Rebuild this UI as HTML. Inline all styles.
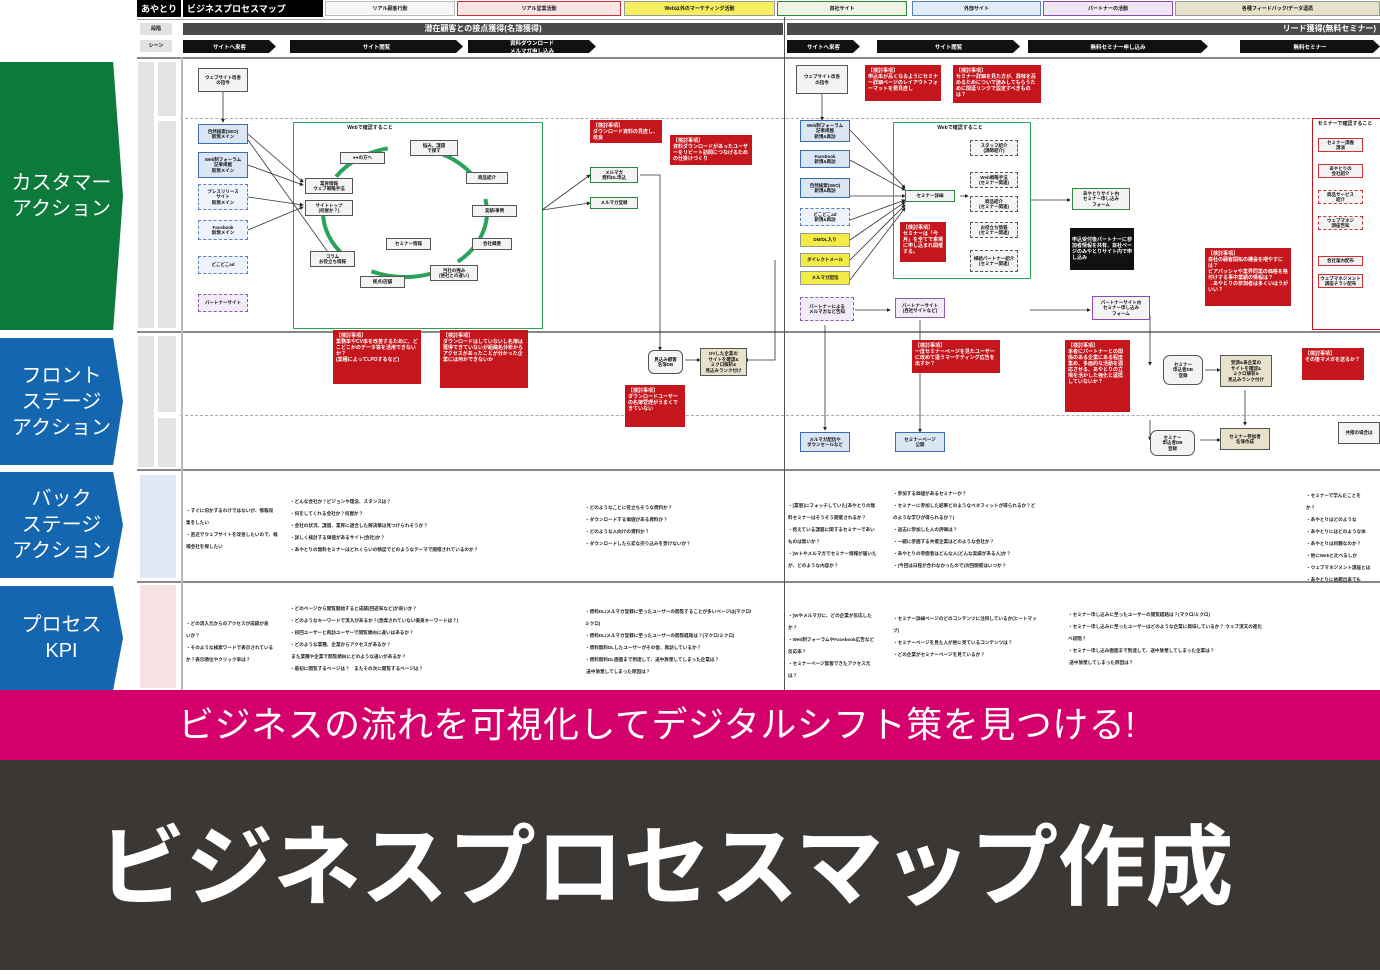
<!DOCTYPE html>
<html><head><meta charset="utf-8"><style>
*{margin:0;padding:0;box-sizing:border-box}
body{width:1380px;height:970px;position:relative;overflow:hidden;background:#fff;font-family:"Liberation Sans","Noto Sans CJK JP",sans-serif}
.a{position:absolute}
.t{font-size:5px;line-height:6px;color:#111;text-align:center;display:flex;align-items:center;justify-content:center;font-weight:bold}
.lab{position:absolute;left:0;width:123px;color:#fff;font-size:20px;line-height:26px;display:flex;align-items:center;justify-content:center;text-align:center;clip-path:polygon(0 0,92% 0,100% 50%,92% 100%,0 100%)}
.red{position:absolute;background:#c4161c;color:#fff;font-size:5px;line-height:6px;padding:3px;font-weight:bold}
.bx{position:absolute;border:1px solid #3a6db5;background:#dbe6f5;font-size:4.5px;line-height:5.5px;text-align:center;display:flex;align-items:center;justify-content:center;color:#111;font-weight:bold}
.dsh{border:1px dashed #5a7ec0;background:#eef2fa}
.pur{border:1px dashed #8a5ab5;background:#f2ecf8}
.yel{border:1px solid #999;background:#f3ec47}
.gb{position:absolute;border:1px solid #555;background:#f4f4f4;font-size:4.5px;line-height:5.5px;text-align:center;display:flex;align-items:center;justify-content:center;color:#111;font-weight:bold}
.arr{position:absolute;background:#111;color:#fff;font-size:5.5px;font-weight:bold;display:flex;align-items:center;justify-content:center;height:13px;clip-path:polygon(0 0,calc(100% - 7px) 0,100% 50%,calc(100% - 7px) 100%,0 100%)}
.ln{position:absolute;background:#888}
.q{position:absolute;font-size:4.6px;line-height:12px;color:#222;white-space:nowrap;font-weight:bold}
</style></head><body>

<div class="lab" style="top:62px;height:268px;background:#0c7a3b">カスタマー<br>アクション</div>
<div class="lab" style="top:338px;height:127px;background:#1566b0">フロント<br>ステージ<br>アクション</div>
<div class="lab" style="top:472px;height:106px;background:#1566b0">バック<br>ステージ<br>アクション</div>
<div class="lab" style="top:586px;height:104px;background:#1566b0">プロセス<br>KPI</div>

<div class="a t" style="left:137px;top:0;width:44px;height:17px;background:#000;color:#fff;font-size:9px;font-weight:bold">あやとり</div>
<div class="a t" style="left:183px;top:0;width:140px;height:17px;background:#000;color:#fff;font-size:9px;font-weight:bold;justify-content:flex-start;padding-left:4px">ビジネスプロセスマップ</div>
<div class="a t" style="left:325px;top:1px;width:130px;height:15px;background:#f6f6f6;border:1px solid #bbb">リアル顧客行動</div>
<div class="a t" style="left:457px;top:1px;width:164px;height:15px;background:#fbe4e4;border:1px solid #c33">リアル営業活動</div>
<div class="a t" style="left:624px;top:1px;width:151px;height:15px;background:#f5ef60;border:1px solid #999">Web以外のマーケティング活動</div>
<div class="a t" style="left:777px;top:1px;width:130px;height:15px;background:#eef3e4;border:1px solid #2a8a3a">自社サイト</div>
<div class="a t" style="left:912px;top:1px;width:129px;height:15px;background:#e2ecf7;border:1px solid #5a82b8">外部サイト</div>
<div class="a t" style="left:1043px;top:1px;width:130px;height:15px;background:#efe8f4;border:1px solid #8a4ab0">パートナーの活動</div>
<div class="a t" style="left:1175px;top:1px;width:205px;height:15px;background:#e8e2cc;border:1px solid #999">各種フィードバック/データ連携</div>

<div class="ln" style="left:137px;top:19px;width:1243px;height:1px;background:#aaa"></div>
<div class="a t" style="left:140px;top:23px;width:32px;height:12px;background:#e2e2e2">段階</div>
<div class="a t" style="left:140px;top:40px;width:32px;height:12px;background:#e2e2e2">シーン</div>
<div class="a t" style="left:183px;top:23px;width:600px;height:12px;background:#4a4a4a;color:#fff;font-size:8px;font-weight:bold">潜在顧客との接点獲得(名簿獲得)</div>
<div class="a t" style="left:787px;top:23px;width:593px;height:12px;background:#4a4a4a;color:#fff;font-size:8px;font-weight:bold;justify-content:flex-end;padding-right:4px">リード獲得(無料セミナー)</div>
<div class="arr" style="left:183px;top:40px;width:93px">サイトへ来客</div>
<div class="arr" style="left:290px;top:40px;width:173px">サイト閲覧</div>
<div class="arr" style="left:468px;top:40px;width:128px">資料ダウンロード<br>メルマガ申し込み</div>
<div class="arr" style="left:787px;top:40px;width:73px">サイトへ来客</div>
<div class="arr" style="left:877px;top:40px;width:143px">サイト閲覧</div>
<div class="arr" style="left:1028px;top:40px;width:180px">無料セミナー申し込み</div>
<div class="arr" style="left:1240px;top:40px;width:140px">無料セミナー</div>

<div class="ln" style="left:137px;top:57px;width:1243px;height:2px"></div>
<div class="ln" style="left:137px;top:331px;width:1243px;height:2px"></div>
<div class="ln" style="left:137px;top:469px;width:1243px;height:2px"></div>
<div class="ln" style="left:137px;top:581px;width:1243px;height:2px"></div>
<div class="ln" style="left:180px;top:118px;width:1200px;height:0;border-top:1px dashed #aaa;background:none"></div>
<div class="ln" style="left:180px;top:415px;width:1200px;height:0;border-top:1px dashed #aaa;background:none"></div>
<div class="ln" style="left:181px;top:57px;width:2px;height:633px;background:#bbb"></div>
<div class="ln" style="left:784px;top:17px;width:1px;height:673px;background:#555"></div>
<div class="a" style="left:138px;top:62px;width:16px;height:266px;background:#e4e4e4"></div>
<div class="a" style="left:158px;top:62px;width:18px;height:54px;background:#e4e4e4"></div>
<div class="a" style="left:158px;top:121px;width:18px;height:207px;background:#e4e4e4"></div>
<div class="a" style="left:138px;top:336px;width:16px;height:131px;background:#e4e4e4"></div>
<div class="a" style="left:158px;top:336px;width:18px;height:76px;background:#e4e4e4"></div>
<div class="a" style="left:158px;top:418px;width:18px;height:49px;background:#e4e4e4"></div>
<div class="a" style="left:140px;top:475px;width:36px;height:103px;background:#dfe8f4"></div>
<div class="a" style="left:140px;top:585px;width:36px;height:103px;background:#f7e3e3"></div>

<div class="gb" style="left:198px;top:68px;width:50px;height:24px;border-width:1.5px">ウェブサイト改善<br>の指令</div>
<div class="bx" style="left:198px;top:124px;width:50px;height:20px">自然検索(SEO)<br>新規メイン</div>
<div class="bx" style="left:198px;top:152px;width:50px;height:26px">Web制フォーラム<br>記事掲載<br>新規メイン</div>
<div class="bx dsh" style="left:198px;top:184px;width:50px;height:26px">プレスリリース<br>サイト<br>新規メイン</div>
<div class="bx dsh" style="left:198px;top:220px;width:50px;height:20px">Facebook<br>新規メイン</div>
<div class="bx dsh" style="left:198px;top:256px;width:50px;height:18px">どこどこad</div>
<div class="bx pur" style="left:198px;top:294px;width:50px;height:18px">パートナーサイト</div>

<div class="a" style="left:293px;top:122px;width:250px;height:207px;border:1.5px solid #2aa35a"></div>
<svg class="a" style="left:0;top:0" width="1380" height="690">
<defs><marker id="m" markerWidth="5" markerHeight="5" refX="4" refY="2.5" orient="auto"><path d="M0,0L5,2.5L0,5z" fill="#222"/></marker>
<marker id="g" markerWidth="6" markerHeight="6" refX="4" refY="3" orient="auto"><path d="M0,0L6,3L0,6z" fill="#2aa35a"/></marker></defs>
<ellipse cx="405" cy="212" rx="82" ry="65" fill="none" stroke="#2aa35a" stroke-width="4" stroke-dasharray="60 30" marker-end="url(#g)"/>
<g stroke="#333" stroke-width="0.8" fill="none" marker-end="url(#m)">
<path d="M248 134L303 182"/><path d="M248 165L303 185"/><path d="M248 197L303 205"/><path d="M248 230L303 207"/><path d="M248 140L330 255"/>
<path d="M542 210L590 175"/><path d="M542 210L590 203"/><path d="M640 175L660 175L660 350"/><path d="M685 360L700 360"/>
<path d="M223 92L223 122"/><path d="M822 94L822 120"/>
<path d="M850 196L905 196"/><path d="M960 196L968 196"/><path d="M1030 200L1070 200"/>
<path d="M1030 310L1090 310"/><path d="M1150 315L1150 365"/><path d="M1150 420L1150 440"/><path d="M1200 440L1220 440"/><path d="M1205 370L1220 370"/><path d="M1245 390L1245 425"/>
<path d="M855 310L890 310"/><path d="M920 320L920 432"/><path d="M775 260L775 360L745 360"/><path d="M825 325L825 430"/>
<path d="M850 160L905 190"/><path d="M850 130L905 188"/><path d="M850 220L905 200"/><path d="M850 240L905 202"/><path d="M850 260L905 205"/><path d="M850 280L905 208"/>
</g></svg>
<div class="a t" style="left:345px;top:124px;width:50px;height:8px">Webで確認すること</div>
<div class="gb" style="left:340px;top:152px;width:45px;height:12px">●●の方へ</div>
<div class="gb" style="left:410px;top:140px;width:48px;height:16px">悩み、課題<br>で探す</div>
<div class="gb" style="left:466px;top:172px;width:42px;height:12px">商品紹介</div>
<div class="gb" style="left:472px;top:205px;width:45px;height:12px">実績/事例</div>
<div class="gb" style="left:472px;top:238px;width:40px;height:12px">会社概要</div>
<div class="gb" style="left:430px;top:265px;width:48px;height:16px">当社の強み<br>(他社との違い)</div>
<div class="gb" style="left:360px;top:276px;width:45px;height:12px">拠点/店舗</div>
<div class="gb" style="left:310px;top:251px;width:45px;height:16px">コラム<br>お役立ち情報</div>
<div class="gb" style="left:386px;top:238px;width:45px;height:12px">セミナー情報</div>
<div class="gb" style="left:305px;top:178px;width:48px;height:16px">業界情報<br>ウェブ戦略手法</div>
<div class="gb" style="left:305px;top:200px;width:48px;height:16px">サイトトップ<br>(何屋か？)</div>
<div class="gb" style="left:590px;top:167px;width:48px;height:16px;border-color:#2a8a3a">メルマガ<br>資料DL申込</div>
<div class="gb" style="left:590px;top:197px;width:48px;height:12px;border-color:#2a8a3a">メルマガ登録</div>

<div class="red" style="left:590px;top:120px;width:72px;height:23px">【検討事項】<br>ダウンロード資料の見直し、改良</div>
<div class="red" style="left:670px;top:135px;width:82px;height:30px">【検討事項】<br>資料ダウンロードがあったユーザーをリピート訪問につなげるための仕掛けづくり</div>
<div class="red" style="left:333px;top:330px;width:88px;height:54px">【検討事項】<br>業務率やCV率を改善するために、どこどこかのデータ等を活用できないか？<br>(業種によってLPOするなど)</div>
<div class="red" style="left:440px;top:330px;width:88px;height:58px">【検討事項】<br>ダウンロードはしていないし名簿は獲得できていないが組織名分析からアクセスがあったことが分かった企業には何かできないか</div>
<div class="red" style="left:625px;top:385px;width:60px;height:42px">【検討事項】<br>ダウンロードユーザーの名簿管理がうまくできていない</div>

<div class="gb" style="left:648px;top:350px;width:35px;height:24px;border-radius:6px">見込み顧客<br>名簿DB</div>
<div class="gb" style="left:700px;top:348px;width:47px;height:28px;background:#e8e2cc">DVした企業の<br>サイトを確認&<br>ミクロ解析&<br>見込みランク付け</div>

<div class="gb" style="left:796px;top:65px;width:52px;height:29px;border-width:1.5px">ウェブサイト改善<br>の指令</div>
<div class="bx" style="left:800px;top:120px;width:50px;height:22px">Web制フォーラム<br>記事掲載<br>新規&再訪</div>
<div class="bx" style="left:800px;top:150px;width:50px;height:18px">Facebook<br>新規&再訪</div>
<div class="bx" style="left:800px;top:178px;width:50px;height:20px">自然検索(SEO)<br>新規&再訪</div>
<div class="bx dsh" style="left:800px;top:208px;width:50px;height:18px">どこどこad<br>新規&再訪</div>
<div class="bx yel" style="left:800px;top:233px;width:50px;height:14px">DM/DL入り</div>
<div class="bx yel" style="left:800px;top:253px;width:50px;height:14px">ダイレクトメール</div>
<div class="bx yel" style="left:800px;top:271px;width:50px;height:14px">メルマガ配信</div>
<div class="bx pur" style="left:800px;top:297px;width:54px;height:24px">パートナーによる<br>メルマガなど告知</div>
<div class="bx pur" style="left:895px;top:298px;width:50px;height:20px;border-style:solid">パートナーサイト<br>(自社サイトなど)</div>
<div class="bx" style="left:800px;top:432px;width:50px;height:20px">メルマガ配信や<br>ダウンセールなど</div>
<div class="bx" style="left:895px;top:432px;width:50px;height:20px">セミナーページ<br>公開</div>

<div class="a" style="left:893px;top:122px;width:138px;height:157px;border:1.5px solid #2aa35a"></div>
<div class="a t" style="left:935px;top:124px;width:50px;height:8px">Webで確認すること</div>
<div class="gb" style="left:905px;top:190px;width:50px;height:12px;border-color:#2a8a3a">セミナー詳細</div>
<div class="gb" style="left:970px;top:140px;width:48px;height:16px;border-style:dashed">スタッフ紹介<br>(講師紹介)</div>
<div class="gb" style="left:970px;top:172px;width:48px;height:16px;border-style:dashed">Web戦略手法<br>(セミナー関連)</div>
<div class="gb" style="left:970px;top:196px;width:48px;height:16px;border-style:dashed">商品紹介<br>(セミナー関連)</div>
<div class="gb" style="left:970px;top:222px;width:48px;height:16px;border-style:dashed">お役立ち情報<br>(セミナー関連)</div>
<div class="gb" style="left:970px;top:250px;width:48px;height:22px;border-style:dashed">相続パートナー紹介<br>(セミナー関連)</div>
<div class="gb" style="left:1072px;top:188px;width:58px;height:22px;border-color:#2a8a3a">あやとりサイト内<br>セミナー申し込み<br>フォーム</div>
<div class="gb" style="left:1092px;top:296px;width:58px;height:24px;border-color:#8a4ab0">パートナーサイト内<br>セミナー申し込み<br>フォーム</div>
<div class="a t" style="left:1070px;top:228px;width:64px;height:42px;background:#111;color:#fff;padding:2px;font-weight:bold;text-align:left">申込受付後パートナーに参加者情報を共有、自社ページのみやとりサイト内で申し込み</div>
<div class="gb" style="left:1163px;top:355px;width:40px;height:30px;border-radius:7px">セミナー<br>申込者DB<br>登録</div>
<div class="gb" style="left:1150px;top:430px;width:45px;height:26px;border-radius:7px">セミナー<br>申込者DB<br>登録</div>
<div class="gb" style="left:1220px;top:355px;width:52px;height:32px;background:#e8e2cc">受講&来企業の<br>サイトを確認&<br>ミクロ解析&<br>見込みランク付け</div>
<div class="gb" style="left:1220px;top:428px;width:50px;height:22px;background:#e8e2cc">セミナー参加者<br>名簿作成</div>

<div class="red" style="left:865px;top:65px;width:76px;height:36px">【検討事項】<br>申込率が高くなるようにセミナー詳細ページのレイアウトフォーマットを要見直し</div>
<div class="red" style="left:953px;top:65px;width:88px;height:38px">【検討事項】<br>セミナー詳細を見た方が、興味を高めるためについで読みしてもらうために関連リンクで設定すべきものは？</div>
<div class="red" style="left:900px;top:222px;width:46px;height:40px">【検討事項】<br>セミナーは「今月」を全てで来場に申し込まれ開催する。</div>
<div class="red" style="left:912px;top:340px;width:88px;height:33px">【検討事項】<br>一度セミナーページを見たユーザーに改めて違うマーケティング広告を出すか？</div>
<div class="red" style="left:1065px;top:340px;width:65px;height:72px">【検討事項】<br>本者にパートナーとの関係のある企業にある程度集め、多面的な活動を適応させる、あやとりの立場を活かした強化と連携していないか？</div>
<div class="red" style="left:1205px;top:248px;width:86px;height:58px">【検討事項】<br>自社の顧客開拓の機会を増やすには？<br>ピアパッシャや業界同業の価格を格付けする事中業績の情報は？<br>→あやとりの参加者は多くいはうがいい？</div>
<div class="red" style="left:1302px;top:348px;width:62px;height:32px">【検討事項】<br>その後マメガを送るか？</div>
<div class="a" style="left:1312px;top:118px;width:70px;height:212px;border:1.5px solid #c4161c"></div>
<div class="a t" style="left:1315px;top:120px;width:60px;height:8px">セミナーで確認すること</div>
<div class="gb" style="left:1318px;top:138px;width:45px;height:14px;border-color:#c33">セミナー講義<br>講演</div>
<div class="gb" style="left:1318px;top:164px;width:45px;height:14px;border-color:#c33">あやとりの<br>会社紹介</div>
<div class="gb" style="left:1318px;top:190px;width:45px;height:14px;border-color:#c33;border-style:dashed">商品サービス<br>紹介</div>
<div class="gb" style="left:1318px;top:216px;width:45px;height:14px;border-color:#c33;border-style:dashed">ウェブマネジ<br>講座告知</div>
<div class="gb" style="left:1318px;top:256px;width:45px;height:10px;border-color:#c33">会社案内配布</div>
<div class="gb" style="left:1318px;top:274px;width:45px;height:14px;border-color:#c33">ウェブマネジメント<br>講座チラシ配布</div>
<div class="gb" style="left:1338px;top:422px;width:42px;height:22px">共催の場合は</div>

<div class="q" style="left:186px;top:505px">・すぐに何かするわけではないが、情報収<br>集をしたい<br>・直近でウェブサイトを改善したいので、候<br>補会社を探したい</div>
<div class="q" style="left:290px;top:496px">・どんな会社か？ビジョンや理念、スタンスは？<br>・何をしてくれる会社か？何屋か？<br>・会社の状況、課題、業界に適合した解決策は見つけられそうか？<br>・詳しく検討する価値があるサイト(会社)か？<br>・あやとりの無料セミナーはどれくらいの頻度でどのようなテーマで開催されているのか？</div>
<div class="q" style="left:585px;top:502px">・どのようなことに役立ちそうな資料か？<br>・ダウンロードする価値がある資料か？<br>・どのような人向けの資料か？<br>・ダウンロードしたら変な売り込みを受けないか？</div>
<div class="q" style="left:788px;top:500px">・[業態]にフォッチしていた[あやとりの無<br>料セミナーはそうそう開催されるか？<br>・抱えている課題に関するセミナーであい<br>ものは無いか？<br>・[Wトやメルマガでセミナー情報が届いた<br>が、どのような内容か？</div>
<div class="q" style="left:893px;top:488px">・参加する価値があるセミナーか？<br>・セミナーに参加した結果どのようなベネフィットが得られるか？ど<br>のような学びが得られるか？)<br>・過去に参加した人の評価は？<br>・一緒に参画する共催企業はどのような会社か？<br>・あやとりの参画者はどんな人(どんな実績がある人)か？<br>・(今回は日程が合わなかったので)次回開催はいつか？</div>
<div class="q" style="left:1306px;top:490px">・セミナーで学んだことを<br>か？<br>・あやとりはどのような<br>・あやとりにはどのような体<br>・あやとりは何親なのか？<br>・他にWebと比べるしか<br>・ウェブマネジメント講座とは<br>・あやとりに依頼出来ても</div>
<div class="q" style="left:186px;top:618px">・どの流入元からのアクセスが成績が良<br>いか？<br>・そのような検索ワードで表示されている<br>か？表示順位やクリック率は？</div>
<div class="q" style="left:290px;top:603px">・どのページから閲覧開始すると成績(回遊率など)が良いか？<br>・どのようなキーワードで流入があるか？(意識されていない優良キーワードは？)<br>・初回ユーザーと再訪ユーザーで閲覧傾向に違いはあるか？<br>・どのような業種、企業からアクセスがあるか？<br>&nbsp;また業種や企業で閲覧傾向にどのような違いがあるか？<br>・最初に閲覧するページは？　またその次に閲覧するページは？</div>
<div class="q" style="left:585px;top:606px">・資料DL/メルマガ登録に至ったユーザーの閲覧することが多いページは(マクロ/<br>ミクロ)<br>・資料DL/メルマガ登録に至ったユーザーの閲覧経路は？(マクロ/ミクロ)<br>・資料無料DLしたユーザーがその後、再訪しているか？<br>・資料無料DL画面まで到達して、途中放棄してしまった企業は？<br>&nbsp;途中放棄してしまった原因は？</div>
<div class="q" style="left:788px;top:610px">・[Wやメルマガに、どの企業が反応した<br>か？<br>・Web制フォーラムやFacebook広告など<br>反応率？<br>・セミナーページ集客できたアクセス元<br>は？</div>
<div class="q" style="left:893px;top:613px">・セミナー詳細ページのどのコンテンツに注目しているか(ヒートマッ<br>プ)<br>・セミナーページを見た人が他に見ているコンテンツは？<br>・どの企業がセミナーページを見ているか？</div>
<div class="q" style="left:1068px;top:609px">・セミナー申し込みに至ったユーザーの閲覧経路は？(マクロ/ミクロ)<br>・セミナー申し込みに至ったユーザーはどのような企業に興味しているか？ ウェブ漢文の進化<br>べ段階？<br>・セミナー申し込み画面まで到達して、途中放棄してしまった企業は？<br>&nbsp;途中放棄してしまった原因は？</div>

<div class="a" style="left:0;top:690px;width:1380px;height:70px;background:#d4006c;color:#fff;font-size:36px;line-height:70px;padding-left:178px;letter-spacing:0.5px">ビジネスの流れを可視化してデジタルシフト策を見つける!</div>
<div class="a" style="left:0;top:760px;width:1380px;height:210px;background:#3b3735;color:#fff;font-size:88px;font-weight:bold;line-height:215px;padding-left:98px;letter-spacing:-0.5px">ビジネスプロセスマップ作成</div>
</body></html>
